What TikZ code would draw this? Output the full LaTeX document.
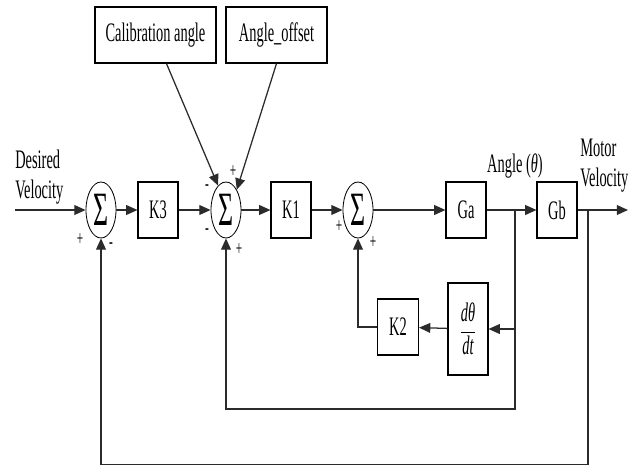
\documentclass[tikz,border=0pt]{standalone}
\usepackage{fontspec}
\setmainfont[FakeStretch=0.54]{Liberation Serif}
\usepackage{tikz}
\usetikzlibrary{positioning, arrows.meta, shapes.geometric, calc}
\definecolor{loopLine}{HTML}{2B2B2B}

\begin{document}
\begin{tikzpicture}[
  x=0.025cm, y=-0.025cm,
  every node/.style={font=\fontsize{19}{21.5}\selectfont},
  block/.style={
    rectangle, draw=black, line width=0.8pt,
    minimum width=1cm, minimum height=1.4cm, inner sep=0pt
  },
  summer/.style={
    ellipse, draw=black, line width=0.6pt,
    minimum width=0.75cm, minimum height=1.4cm, inner sep=0pt,
    font=\fontsize{34}{34}\selectfont
  },
  sign/.style={font=\fontsize{15}{15}\selectfont, inner sep=0pt},
  tag/.style={align=left, inner sep=0pt},
  flow/.style={-{Triangle[length=8pt,width=7pt]}, loopLine, line width=0.9pt},
]
\useasboundingbox (0,0) rectangle (631,466);

% Summing junctions and blocks
\node[summer] (sum1) at (101,210) {Σ};
\node[block] (k3) at (158,210) {K3};
\node[summer] (sum2) at (226,210) {Σ};
\node[block] (k1) at (291,210) {K1};
\node[summer] (sum3) at (358,210) {Σ};
\node[block] (ga) at (466,210) {Ga};
\node[block] (gb) at (557,210) {Gb};
\node[block, minimum width=3.025cm] (calib) at (155.5,35) {Calibration angle};
\node[block, minimum width=2.525cm] (offset) at (276.5,35) {Angle\_offset};
\node[block, minimum width=1.025cm] (k2) at (398,327) {K2};
\node[block, minimum height=2.3cm, font=\fontsize{19}{22}\selectfont] (deriv) at (468,329)
  {$\displaystyle\frac{\hbox{\itshape dθ}}{\hbox{\itshape dt}}$};

% Free ends and branch points
\coordinate (in) at (15,210);
\coordinate (out) at (628,210);
\coordinate (tapA) at (515,210);
\coordinate (tapV) at (588,210);
\coordinate (innerLow) at (515,409);
\coordinate (outerLow) at (588,464.5);

% Forward path
\draw[flow] (in) -- (sum1);
\draw[flow] (sum1) -- (k3);
\draw[flow] (k3) -- (sum2);
\draw[flow] (sum2) -- (k1);
\draw[flow] (k1) -- (sum3);
\draw[flow] (sum3) -- (ga);
\draw[flow] (ga) -- (gb);
\draw[flow] (gb) -- (out);

% Reference inputs
\draw[flow] (calib.291) -- (sum2.108);
\draw[flow] (offset.south) -- (sum2.62);

% Feedback loops
\draw[flow] (tapA) |- (deriv.east);
\draw[flow] (deriv) -- (k2);
\draw[flow] (k2.west) -| (sum3.south);
\draw[flow] (tapA) -- (innerLow) -| (sum2.south);
\draw[flow] (tapV) -- (outerLow) -| (sum1.south);

% Labels
\node[tag, anchor=west] (desired) at (15,177) {Desired\\Velocity};
\node (angle) at (515,166) {Angle (\textit{θ})};
\node[tag, anchor=west] (motor) at (580,166) {Motor\\Velocity};

% Signs
\node[sign] (s1a) at (80,240) {+};
\node[sign] (s1b) at (111,246) {-};
\node[sign] (s2a) at (207,188) {-};
\node[sign] (s2b) at (233,172) {+};
\node[sign] (s2c) at (207,232) {-};
\node[sign] (s2d) at (239,250) {+};
\node[sign] (s3a) at (339,227) {+};
\node[sign] (s3b) at (373,243) {+};

\end{tikzpicture}
\end{document}
